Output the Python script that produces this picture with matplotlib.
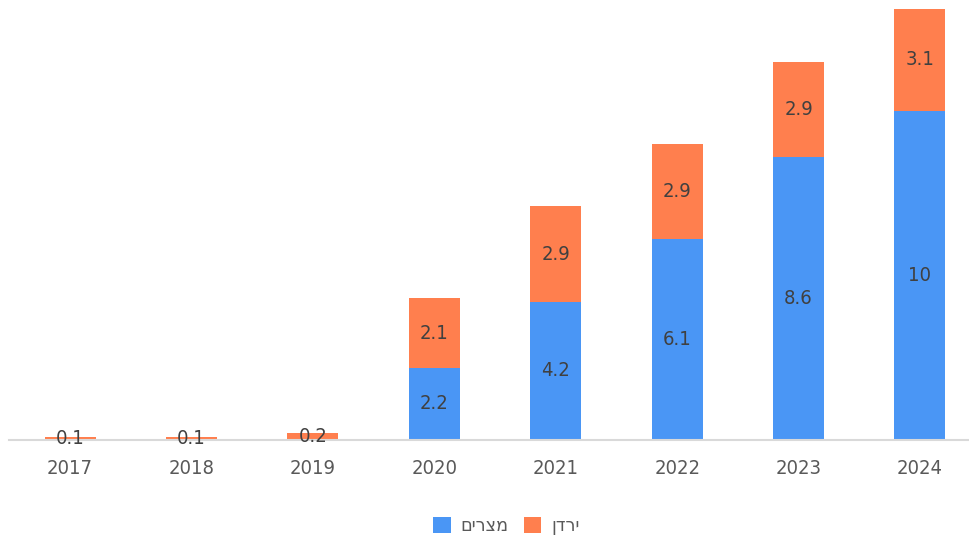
import matplotlib
matplotlib.use("Agg")
import matplotlib.pyplot as plt
import numpy as np

years = ["2017", "2018", "2019", "2020", "2021", "2022", "2023", "2024"]
egypt = [0, 0, 0, 2.2, 4.2, 6.1, 8.6, 10]
jordan = [0.1, 0.1, 0.2, 2.1, 2.9, 2.9, 2.9, 3.1]
egypt_name = "מצרים"
jordan_name = "ירדן"

def vis(s):
    # matplotlib has no bidi support: reverse for right-to-left display
    return s[::-1]

plt.rcParams['font.family'] = ['DejaVu Sans']
plt.rcParams['font.stretch'] = 'condensed'

blue = "#4A96F5"
orange = "#FF7F4E"
label_color = "#404040"

fig = plt.figure(figsize=(9.70, 5.41), dpi=100)
ax = fig.add_axes([9.3 / 970, 0.1867, 971.4 / 970, 0.800])

x = np.arange(len(years))
w = 0.42
b1 = ax.bar(x, egypt, w, color=blue, label=vis(egypt_name), zorder=2)
b2 = ax.bar(x, jordan, w, bottom=egypt, color=orange, label=vis(jordan_name), zorder=2)

for xi, e, j in zip(x, egypt, jordan):
    if e > 0:
        ax.text(xi, e / 2, f"{e:g}", ha="center", va="center", fontsize=14.5,
                color=label_color, zorder=3, fontstretch='condensed')
    ax.text(xi, e + j / 2, f"{j:g}", ha="center", va="center", fontsize=14.5,
            color=label_color, zorder=3, fontstretch='condensed')

ax.set_xlim(-0.5, len(years) - 0.5)
ax.set_ylim(0, 13.15)
ax.set_xticks(x)
ax.set_xticklabels(years, fontsize=14.5, color="#595959", fontstretch='condensed')
ax.tick_params(axis="x", length=0, pad=14)
ax.set_yticks([])
for s in ["top", "right", "left"]:
    ax.spines[s].set_visible(False)
ax.spines["bottom"].set_color("#D9D9D9")
ax.spines["bottom"].set_linewidth(1.5)

leg = fig.legend(handles=[b1, b2], labels=[vis(egypt_name), vis(jordan_name)],
                 loc="center", bbox_to_anchor=(0.522, 0.028), ncol=2, frameon=False,
                 prop={'size': 14, 'stretch': 'condensed'},
                 handlelength=0.9, handleheight=0.9, handletextpad=0.5,
                 columnspacing=0.8, labelcolor="#595959")

fig.savefig("out.png", dpi=100)
